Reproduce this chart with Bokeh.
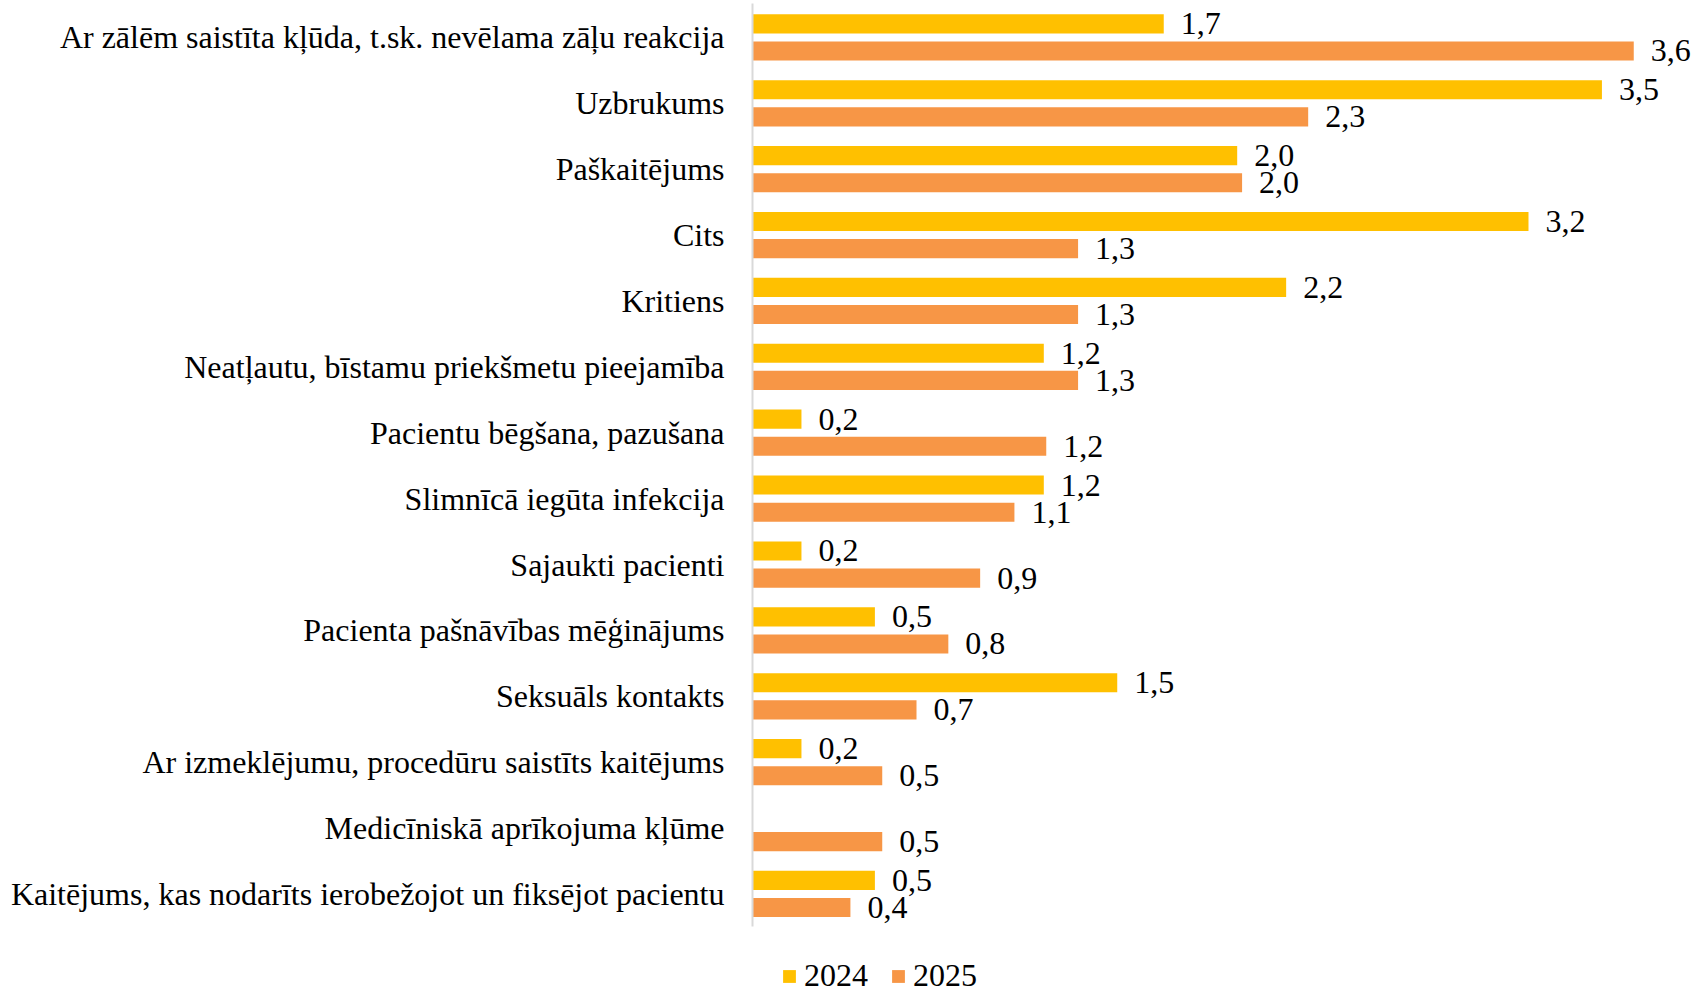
from bokeh.plotting import figure
from bokeh.models import ColumnDataSource, Range1d, FixedTicker, Legend, LegendItem
from bokeh.transform import dodge
from bokeh.core.properties import value
from bokeh.embed import file_html
from bokeh.resources import INLINE
import numpy as np

categories = [
    "Ar zālēm saistīta kļūda, t.sk. nevēlama zāļu reakcija",
    "Uzbrukums",
    "Paškaitējums",
    "Cits",
    "Kritiens",
    "Neatļautu, bīstamu priekšmetu pieejamība",
    "Pacientu bēgšana, pazušana",
    "Slimnīcā iegūta infekcija",
    "Sajaukti pacienti",
    "Pacienta pašnāvības mēģinājums",
    "Seksuāls kontakts",
    "Ar izmeklējumu, procedūru saistīts kaitējums",
    "Medicīniskā aprīkojuma kļūme",
    "Kaitējums, kas nodarīts ierobežojot un fiksējot pacientu",
]
values_2024 = [1.68, 3.47, 1.98, 3.17, 2.18, 1.19, 0.20, 1.19, 0.20, 0.50, 1.49, 0.20, None, 0.50]
values_2025 = [3.60, 2.27, 2.00, 1.33, 1.33, 1.33, 1.20, 1.07, 0.93, 0.80, 0.67, 0.53, 0.53, 0.40]
series_names = ["2024", "2025"]
series_colors = ["#FFC000", "#F79646"]

FONT = "Liberation Serif"
FS = "32px"

pos = list(range(len(categories)))

def fmt(v):
    return f"{v:.1f}".replace(".", ",")

p = figure(width=1704, height=989, output_backend="svg", toolbar_location=None,
           x_range=Range1d(0, 3.889), y_range=Range1d(14.45, -0.56),
           min_border_left=752, min_border_right=0, min_border_top=0, min_border_bottom=0)

p.xaxis.visible = False
p.xgrid.visible = False
p.ygrid.visible = False
p.outline_line_color = None
p.background_fill_color = "white"
p.border_fill_color = "white"

yax = p.yaxis[0]
yax.ticker = FixedTicker(ticks=pos)
yax.major_label_overrides = {i: c for i, c in enumerate(categories)}
yax.major_tick_line_color = None
yax.minor_tick_line_color = None
yax.major_tick_in = 0
yax.major_tick_out = 0
yax.major_label_standoff = 28
yax.major_label_text_font = FONT
yax.major_label_text_font_size = FS
yax.major_label_text_color = "black"
yax.axis_line_color = "#d9d9d9"
yax.axis_line_width = 2
yax.bounds = (-0.515, 13.5)

offsets = [-0.206, 0.206]
renderers = []
for name, vals, col, off in zip(series_names, [values_2024, values_2025], series_colors, offsets):
    v = [np.nan if x is None else x for x in vals]
    src = ColumnDataSource(dict(y=pos, v=v))
    r = p.hbar(y=dodge("y", off, range=p.y_range), right="v", left=0, height=0.29,
               source=src, fill_color=col, line_color=None)
    renderers.append(r)
    ly = [pos[i] for i, x in enumerate(vals) if x is not None]
    lv = [x for x in vals if x is not None]
    lsrc = ColumnDataSource(dict(y=ly, v=lv, t=[fmt(x) for x in lv]))
    p.text(x="v", y=dodge("y", off, range=p.y_range), text="t", source=lsrc,
           x_offset=17, text_align="left", text_baseline="middle",
           text_font=value(FONT), text_font_size=FS, text_color="black")

legend = Legend(items=[LegendItem(label=n, renderers=[r]) for n, r in zip(series_names, renderers)],
                orientation="horizontal", location=(29, -5),
                label_text_font=FONT, label_text_font_size=FS, label_text_color="black",
                glyph_width=16, glyph_height=16, label_standoff=7, spacing=22,
                padding=0, margin=0, border_line_color=None, background_fill_alpha=0)
p.add_layout(legend, "center")

open("out.html", "w").write(file_html(p, INLINE))
